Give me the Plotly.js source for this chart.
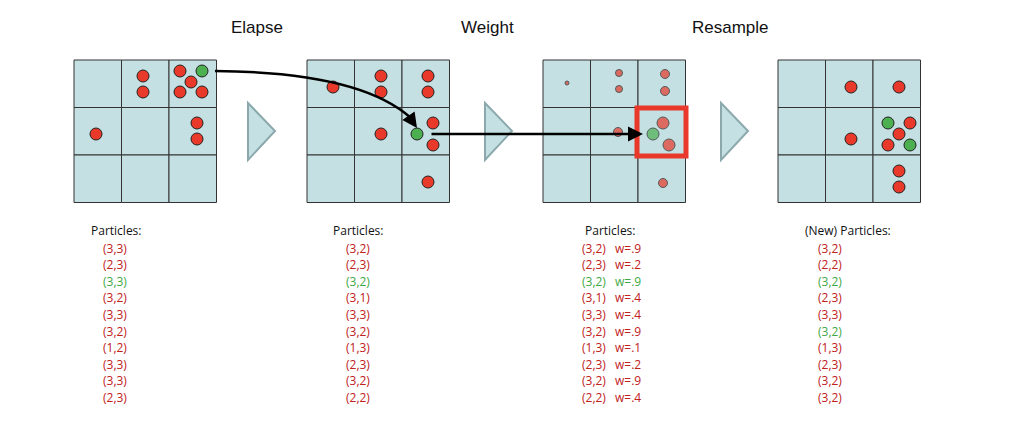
<!DOCTYPE html>
<html>
<head>
<meta charset="utf-8">
<script src="https://cdn.plot.ly/plotly-3.0.1.min.js"></script>
<style>body{margin:0;background:#fff}#plot{width:1036px;height:426px}</style>
</head>
<body>
<div id="plot"></div>
<script>
// panel titles and grid left edges
var stepTitles = ['Elapse', 'Weight', 'Resample'];
var gridLeft = [74, 307, 543, 778];

// particle dots per panel (x, y in picture pixels), colour flag g = green
var elapseX = [143, 143, 180, 191, 180, 202, 96, 197, 197, 202];
var elapseY = [76, 92, 71, 82, 92, 92, 134, 123, 139, 71];
var elapseG = [0, 0, 0, 0, 0, 0, 0, 0, 0, 1];

var weightX = [333, 381, 381, 428, 428, 433, 381, 433, 428, 417];
var weightY = [87, 76, 92, 76, 92, 123, 134, 145, 182, 134];
var weightG = [0, 0, 0, 0, 0, 0, 0, 0, 0, 1];

var resampX = [567, 619, 619, 665, 665, 663, 669, 618, 663, 653];
var resampY = [83, 73, 89, 74, 91, 123, 145, 132, 183, 134];
var resampW = [.1, .2, .2, .4, .4, .9, .9, .4, .4, .9];
var resampG = [0, 0, 0, 0, 0, 0, 0, 0, 0, 1];

var newX = [851, 899, 851, 910, 899, 888, 899, 899, 888, 910];
var newY = [87, 87, 139, 123, 134, 145, 171, 187, 123, 145];
var newG = [0, 0, 0, 0, 0, 0, 0, 0, 1, 1];

// particle lists
var listElapse = ['(3,3)', '(2,3)', '(3,3)', '(3,2)', '(3,3)', '(3,2)', '(1,2)', '(3,3)', '(3,3)', '(2,3)'];
var listWeight = ['(3,2)', '(2,3)', '(3,2)', '(3,1)', '(3,3)', '(3,2)', '(1,3)', '(2,3)', '(3,2)', '(2,2)'];
var listW = ['w=.9', 'w=.2', 'w=.9', 'w=.4', 'w=.4', 'w=.9', 'w=.1', 'w=.2', 'w=.9', 'w=.4'];
var listNew = ['(3,2)', '(2,2)', '(3,2)', '(2,3)', '(3,3)', '(3,2)', '(1,3)', '(2,3)', '(3,2)', '(3,2)'];
var greenElapse = [2], greenWeight = [2], greenNew = [2, 5];

var RED = '#e8392a', GREEN = '#4caf50', TRED = '#c0211b', TGREEN = '#3fa845';
var FILL = '#c5e0e2';

function dots(xs, ys, gs, sizes) {
  return {
    x: xs, y: ys, mode: 'markers', type: 'scatter', hoverinfo: 'skip',
    marker: {
      color: gs.map(function (g) { return g ? GREEN : RED; }),
      size: sizes || 12,
      line: {color: '#222', width: 1}
    }
  };
}

var shapes = [];
gridLeft.forEach(function (gx) {
  var cell = 47.5;
  for (var i = 0; i < 3; i++) for (var j = 0; j < 3; j++) {
    shapes.push({type: 'rect', x0: gx + i * cell, x1: gx + (i + 1) * cell,
      y0: 60 + j * cell, y1: 60 + (j + 1) * cell,
      fillcolor: FILL, line: {color: '#333', width: 1}, layer: 'below'});
  }
});
[248, 485, 721].forEach(function (tx) {
  shapes.push({type: 'path', path: 'M' + tx + ',103 L' + (tx + 27) + ',131 L' + tx + ',160 Z',
    fillcolor: FILL, line: {color: '#8ba9ad', width: 2}});
});
// highlight box
shapes.push({type: 'rect', x0: 637, x1: 686, y0: 108, y1: 156, line: {color: RED, width: 5}});
// curved arrow body
shapes.push({type: 'path', path: 'M215,71 Q360,72 411,118', line: {color: '#000', width: 2.5}});

var annotations = [];
var titleX = [257, 487, 730];
stepTitles.forEach(function (t, i) {
  annotations.push({x: titleX[i], y: 27, text: t, showarrow: false,
    font: {size: 17, color: '#111', family: 'Liberation Sans'}});
});
// arrow heads
annotations.push({x: 417, y: 128, ax: 408, ay: 115, axref: 'x', ayref: 'y',
  showarrow: true, arrowhead: 2, arrowsize: 1.2, arrowwidth: 2.5, arrowcolor: '#000', text: ''});
annotations.push({x: 643, y: 134, ax: 430, ay: 134, axref: 'x', ayref: 'y',
  showarrow: true, arrowhead: 2, arrowsize: 1.2, arrowwidth: 2.5, arrowcolor: '#000', text: ''});

function txt(x, y, s, c) {
  annotations.push({x: x, y: y, text: s, showarrow: false, xanchor: 'left',
    font: {size: 12, color: c, family: 'Open Sans'}});
}
var y0 = 248, dy = 16.6;
txt(89, 230, 'Particles:', '#111');
txt(331, 230, 'Particles:', '#111');
txt(583, 230, 'Particles:', '#111');
txt(803, 230, '(New) Particles:', '#111');
for (var k = 0; k < 10; k++) {
  var yy = y0 + k * dy;
  txt(101, yy, listElapse[k], greenElapse.indexOf(k) >= 0 ? TGREEN : TRED);
  txt(344, yy, listWeight[k], greenWeight.indexOf(k) >= 0 ? TGREEN : TRED);
  var c3 = greenWeight.indexOf(k) >= 0 ? TGREEN : TRED;
  txt(580, yy, listWeight[k], c3);
  txt(613, yy, listW[k], c3);
  txt(816, yy, listNew[k], greenNew.indexOf(k) >= 0 ? TGREEN : TRED);
}

var data = [
  dots(elapseX, elapseY, elapseG),
  dots(weightX, weightY, weightG),
  dots(resampX, resampY, resampG, resampW.map(function (w) { return w >= .9 ? 12 : w >= .4 ? 9 : w >= .2 ? 7 : 4; })),
  dots(newX, newY, newG)
];

var layout = {
  width: 1036, height: 426,
  margin: {l: 0, r: 0, t: 0, b: 0},
  paper_bgcolor: '#fff', plot_bgcolor: '#fff',
  showlegend: false,
  xaxis: {range: [0, 1036], visible: false, fixedrange: true},
  yaxis: {range: [426, 0], visible: false, fixedrange: true},
  shapes: shapes,
  annotations: annotations
};
Plotly.newPlot('plot', data, layout, {displayModeBar: false, staticPlot: true});
</script>
</body>
</html>
